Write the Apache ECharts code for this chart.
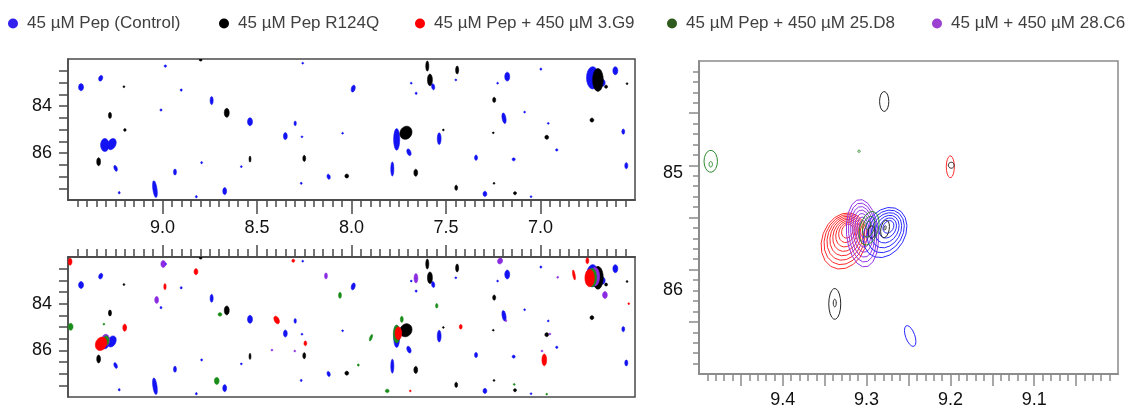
<!DOCTYPE html>
<html>
<head>
<meta charset="utf-8">
<script src="https://cdn.jsdelivr.net/npm/echarts@6/dist/echarts.min.js"></script>
<style>
  html, body { margin: 0; padding: 0; background: #fff; }
  #chart { width: 1132px; height: 406px; }
</style>
</head>
<body>
<div id="chart"></div>
<script>
// Series names (legend order)
const seriesNames = [
  '45 µM Pep (Control)',
  '45 µM Pep R124Q',
  '45 µM Pep + 450 µM 3.G9',
  '45 µM Pep + 450 µM 25.D8',
  '45 µM + 450 µM 28.C6'
];

// Full-width spectra: [1H ppm, 15N ppm, 1H linewidth ppm, 15N linewidth ppm, tilt deg]
const controlPeaks = [
  [9.431, 83.20, 0.026, 0.30], [9.327, 82.82, 0.020, 0.25, 20], [8.985, 82.30, 0.012, 0.10],
  [8.901, 83.32, 0.010, 0.10], [8.740, 83.77, 0.016, 0.34], [9.008, 84.17, 0.010, 0.10],
  [8.537, 84.67, 0.026, 0.34], [9.305, 85.66, 0.045, 0.55], [9.268, 85.62, 0.042, 0.50, 25],
  [8.298, 84.74, 0.012, 0.20], [8.350, 85.28, 0.020, 0.30], [8.262, 85.31, 0.008, 0.08],
  [8.047, 85.16, 0.006, 0.06], [9.248, 86.65, 0.016, 0.26, -20], [8.793, 86.41, 0.010, 0.09],
  [8.934, 86.81, 0.015, 0.26], [8.583, 86.58, 0.008, 0.08], [8.121, 87.01, 0.016, 0.22, -15],
  [8.266, 87.29, 0.010, 0.09], [9.040, 87.54, 0.022, 0.72, -8], [9.229, 87.69, 0.010, 0.10],
  [8.821, 87.86, 0.010, 0.10], [8.671, 87.62, 0.020, 0.30], [7.991, 83.26, 0.020, 0.30, 15],
  [8.258, 82.18, 0.008, 0.08], [7.568, 83.18, 0.016, 0.26, -10], [7.448, 82.89, 0.008, 0.08],
  [7.684, 83.03, 0.008, 0.08], [7.658, 83.46, 0.010, 0.10], [7.176, 82.75, 0.026, 0.38],
  [6.998, 82.43, 0.008, 0.10], [7.227, 83.03, 0.008, 0.08], [7.193, 84.52, 0.020, 0.46, -10],
  [7.084, 84.26, 0.008, 0.08], [6.959, 84.74, 0.006, 0.06], [7.761, 85.42, 0.032, 0.92],
  [7.536, 85.39, 0.020, 0.50], [7.696, 85.97, 0.020, 0.30, -20], [7.784, 86.68, 0.016, 0.60],
  [7.341, 86.20, 0.016, 0.22], [7.142, 86.27, 0.016, 0.13], [6.914, 85.87, 0.012, 0.10],
  [7.294, 87.74, 0.020, 0.22], [7.050, 87.86, 0.008, 0.08], [6.724, 82.80, 0.065, 0.95],
  [6.671, 83.01, 0.026, 0.30], [6.604, 82.50, 0.026, 0.34], [6.562, 85.09, 0.015, 0.22],
  [6.546, 86.54, 0.016, 0.26]
];
const r124qPeaks = [
  [8.798, 82.04, 0.015, 0.10], [9.204, 83.18, 0.010, 0.08], [9.278, 84.40, 0.016, 0.26],
  [8.660, 84.29, 0.026, 0.38], [9.199, 85.02, 0.013, 0.12], [9.338, 86.37, 0.020, 0.34],
  [8.537, 86.26, 0.010, 0.26], [8.250, 86.23, 0.015, 0.26], [8.025, 86.98, 0.020, 0.17],
  [7.599, 82.30, 0.016, 0.43], [7.585, 82.89, 0.026, 0.50], [7.441, 82.47, 0.016, 0.34],
  [7.245, 83.74, 0.016, 0.22], [6.728, 84.60, 0.020, 0.17], [6.967, 85.33, 0.020, 0.17],
  [7.250, 85.14, 0.006, 0.06], [7.514, 85.02, 0.006, 0.06], [7.712, 85.14, 0.062, 0.58, 30],
  [7.660, 86.84, 0.020, 0.30], [7.446, 87.48, 0.015, 0.22], [7.246, 87.29, 0.006, 0.06],
  [7.135, 87.71, 0.016, 0.13], [6.696, 82.89, 0.056, 0.98], [6.653, 83.18, 0.016, 0.13],
  [6.542, 83.05, 0.008, 0.08]
];
const g9Peaks = [
  [9.489, 82.20, 0.020, 0.30], [8.823, 82.63, 0.020, 0.26], [8.987, 83.27, 0.012, 0.26],
  [9.200, 85.03, 0.020, 0.30], [9.325, 85.72, 0.058, 0.60, 25], [8.308, 82.16, 0.015, 0.13],
  [8.396, 84.70, 0.025, 0.35, -25], [8.244, 85.70, 0.015, 0.20], [6.752, 82.16, 0.015, 0.26],
  [6.823, 82.77, 0.012, 0.43, -10], [6.740, 82.90, 0.050, 0.75], [6.533, 84.00, 0.006, 0.06],
  [7.422, 84.99, 0.015, 0.20], [7.752, 85.27, 0.035, 0.55], [6.980, 86.41, 0.025, 0.50],
  [7.689, 87.74, 0.006, 0.06]
];
const d8Peaks = [
  [9.486, 84.99, 0.025, 0.30], [9.310, 84.88, 0.006, 0.06], [9.298, 85.58, 0.030, 0.40],
  [8.696, 84.46, 0.020, 0.15], [8.713, 87.31, 0.025, 0.30], [8.061, 83.64, 0.015, 0.26],
  [7.964, 86.63, 0.008, 0.10], [7.734, 84.67, 0.015, 0.26], [7.761, 85.30, 0.035, 0.77],
  [7.897, 85.46, 0.012, 0.30, 20], [7.549, 84.09, 0.012, 0.20], [7.811, 87.74, 0.020, 0.15],
  [7.139, 87.46, 0.008, 0.08], [6.967, 87.88, 0.006, 0.06], [6.728, 82.88, 0.050, 0.80]
];
const c6Peaks = [
  [8.996, 82.30, 0.025, 0.30], [9.031, 83.84, 0.020, 0.30], [9.300, 85.56, 0.040, 0.50],
  [8.135, 82.81, 0.015, 0.26], [8.421, 85.99, 0.006, 0.06], [8.300, 86.03, 0.008, 0.08],
  [7.214, 82.17, 0.026, 0.26, 20], [7.659, 82.91, 0.020, 0.40], [6.909, 82.87, 0.008, 0.08],
  [6.712, 82.84, 0.050, 0.80], [6.659, 83.63, 0.025, 0.30], [7.183, 84.73, 0.006, 0.06],
  [6.950, 85.30, 0.006, 0.06], [6.992, 86.03, 0.006, 0.06], [7.761, 85.13, 0.025, 0.40]
];

// Expanded region contours:
// [outer 1H, outer 15N, outer 1H width, outer 15N width, top 1H, top 15N, levels, tilt deg]
const controlZoom = [
  [9.278, 85.644, 0.048, 0.51, 9.274, 85.59, 6, 30],
  [9.248, 86.636, 0.011, 0.21, 9.248, 86.636, 1, -20]
];
const r124qZoom = [
  [9.279, 84.388, 0.011, 0.19, 9.279, 84.388, 1, 0],
  [9.338, 86.328, 0.0143, 0.296, 9.338, 86.32, 2, 0],
  [9.199, 84.999, 0.007, 0.057, 9.199, 84.999, 1, 0],
  [9.278, 85.610, 0.010, 0.17, 9.278, 85.60, 2, 10],
  [9.294, 85.640, 0.008, 0.12, 9.294, 85.64, 1, 0]
];
const g9Zoom = [
  [9.327, 85.725, 0.0526, 0.553, 9.323, 85.63, 8, 20],
  [9.2001, 85.014, 0.0096, 0.21, 9.2001, 85.014, 1, 0]
];
const d8Zoom = [
  [9.297, 85.603, 0.022, 0.33, 9.298, 85.575, 3, 15],
  [9.486, 84.961, 0.016, 0.21, 9.486, 84.99, 2, 0],
  [9.309, 84.865, 0.003, 0.02, 9.309, 84.865, 1, 0]
];
const c6Zoom = [
  [9.305, 85.651, 0.038, 0.65, 9.304, 85.61, 7, -5]
];

// Axis tick values
const wideLabelTicks = [9.0, 8.5, 8.0, 7.5, 7.0];
const wideNLabels = [84, 86];
const zoomHLabels = [9.4, 9.3, 9.2, 9.1];
const zoomNLabels = [85, 86];

function steps(from, to, step, dp) {
  const out = [];
  const n = Math.round((to - from) / step);
  for (let i = 0; i <= n; i++) out.push(+(from + i * step).toFixed(dp));
  return out;
}
const wideHMinor = steps(6.55, 9.45, 0.05, 2);
const wideHMajor = wideLabelTicks.slice();
const wideNTicks = steps(82.5, 87.5, 0.5, 1);
const zoomHMinor = steps(9.01, 9.49, 0.01, 2);
const zoomHMajor = steps(9.05, 9.45, 0.05, 2);
const zoomNMinor = steps(84.1, 86.9, 0.1, 1);
const zoomNMajor = steps(84.5, 86.5, 0.5, 1);

const legendColors = ['#3322ee', '#000000', '#ff0000', '#2f5c1e', '#9b40d0'];
const blobColors = ['#1212f2', '#000000', '#ff0000', '#1a8c1a', '#8a2be2'];
const lineColors = ['#2a2aff', '#262626', '#ff2a2a', '#2e8b2e', '#9433e6'];

function ellipsePoints(cx, cy, rx, ry, tiltDeg, n) {
  const a = tiltDeg * Math.PI / 180, ca = Math.cos(a), sa = Math.sin(a);
  const pts = [];
  for (let i = 0; i < n; i++) {
    const t = i / n * Math.PI * 2;
    const ex = rx * Math.cos(t), ey = ry * Math.sin(t);
    pts.push([cx + ex * ca - ey * sa, cy + ex * sa + ey * ca]);
  }
  return pts;
}

function blobRenderer(color) {
  return function (params, api) {
    const c = api.coord([api.value(0), api.value(1)]);
    const s = api.size([api.value(2), api.value(3)]);
    const rx = Math.max(Math.abs(s[0]) / 2, 0.9);
    const ry = Math.max(Math.abs(s[1]) / 2, 0.9);
    return {
      type: 'polygon',
      shape: { points: ellipsePoints(c[0], c[1], rx, ry, api.value(4) || 0, 20) },
      style: { fill: color, stroke: color, lineWidth: 0.6 }
    };
  };
}

function contourRenderer(color) {
  return function (params, api) {
    const L = api.value(6);
    const children = [];
    for (let i = 0; i < L; i++) {
      const f = L > 1 ? i / (L - 1) : 0;
      const k = 1 - 0.75 * f;
      const h = api.value(0) + (api.value(4) - api.value(0)) * f;
      const n = api.value(1) + (api.value(5) - api.value(1)) * f;
      const c = api.coord([h, n]);
      const s = api.size([api.value(2) * k, api.value(3) * k]);
      children.push({
        type: 'polygon',
        shape: { points: ellipsePoints(c[0], c[1], Math.abs(s[0]) / 2, Math.abs(s[1]) / 2, api.value(7), 18) },
        style: { fill: 'none', stroke: color, lineWidth: 1 }
      });
    }
    return { type: 'group', children: children };
  };
}

const pad5 = arr => arr.map(p => [p[0], p[1], p[2], p[3], p[4] || 0]);

function blobSeries(idx, peaks, xi, yi) {
  return {
    type: 'custom', name: seriesNames[idx], xAxisIndex: xi, yAxisIndex: yi,
    clip: true, silent: true, itemStyle: { color: legendColors[idx] },
    encode: { x: 0, y: 1 },
    renderItem: blobRenderer(blobColors[idx]),
    data: pad5(peaks)
  };
}
function contourSeries(idx, peaks) {
  return {
    type: 'custom', name: seriesNames[idx], xAxisIndex: 4, yAxisIndex: 2,
    clip: true, silent: true, itemStyle: { color: legendColors[idx] },
    encode: { x: 0, y: 1 },
    renderItem: contourRenderer(lineColors[idx]),
    data: peaks
  };
}

const labelFont = { fontFamily: 'Liberation Sans, Arial, sans-serif', fontSize: 18, color: '#111' };
const darkAxis = '#4a4a4a';
const lightAxis = '#8a8a8a';

function hAxis(grid, pos, min, max, ticks, len, color, labels, margin) {
  return {
    type: 'value', gridIndex: grid, position: pos, min: min, max: max, inverse: true,
    splitLine: { show: false },
    axisLine: { show: true, lineStyle: { color: color, width: 1.5 } },
    axisTick: { show: true, inside: false, length: len, customValues: ticks,
                lineStyle: { color: color, width: 1.5 } },
    axisLabel: labels ? Object.assign({ show: true, customValues: labels, margin: margin,
                formatter: v => v.toFixed(1) }, labelFont) : { show: false }
  };
}
function vAxis(grid, min, max, ticks, len, color, labels, margin, formatter, rich) {
  return {
    type: 'value', gridIndex: grid, position: 'left', min: min, max: max, inverse: true,
    splitLine: { show: false },
    axisLine: { show: true, lineStyle: { color: color, width: 1.5 } },
    axisTick: { show: true, inside: false, length: len, customValues: ticks,
                lineStyle: { color: color, width: 1.5 } },
    axisLabel: labels ? Object.assign({ show: true, customValues: labels, margin: margin,
                formatter: formatter || (v => String(v)), rich: rich }, labelFont) : { show: false }
  };
}

const legends = [8, 219, 415, 667, 932].map((left, i) => ({
  left: left, top: 15, padding: 0, orient: 'horizontal',
  data: [seriesNames[i]], icon: 'circle', itemWidth: 10, itemHeight: 14,
  symbolKeepAspect: false,
  textStyle: { fontFamily: 'Liberation Sans, Arial, sans-serif', fontSize: 17, color: '#404040',
               padding: [0, 0, 0, 4] }
}));

const gridBase = { show: true, borderWidth: 1.5, backgroundColor: 'transparent',
                   containLabel: false, outerBoundsMode: 'none' };

const option = {
  animation: false,
  backgroundColor: '#ffffff',
  legend: legends,
  grid: [
    Object.assign({ left: 68, top: 59, width: 567, height: 141, borderColor: darkAxis }, gridBase),
    Object.assign({ left: 68, top: 257, width: 567, height: 140, borderColor: darkAxis }, gridBase),
    Object.assign({ left: 699, top: 61, width: 419, height: 313, borderColor: lightAxis }, gridBase)
  ],
  xAxis: [
    hAxis(0, 'bottom', 6.5, 9.5, wideHMinor, 7, darkAxis, null),
    hAxis(0, 'bottom', 6.5, 9.5, wideHMajor, 14, darkAxis, wideLabelTicks, 19),
    hAxis(1, 'top', 6.5, 9.5, wideHMinor, 8, darkAxis, null),
    hAxis(1, 'top', 6.5, 9.5, wideHMajor, 12, darkAxis, null),
    hAxis(2, 'bottom', 9.0, 9.5, zoomHMinor, 7, lightAxis, null),
    hAxis(2, 'bottom', 9.0, 9.5, zoomHMajor, 12, lightAxis, zoomHLabels, 17)
  ],
  yAxis: [
    vAxis(0, 82, 88, wideNTicks, 9, darkAxis, wideNLabels, 16),
    vAxis(1, 82, 88, wideNTicks, 9, darkAxis, wideNLabels, 16),
    vAxis(2, 84, 87, zoomNMinor, 6, lightAxis, null),
    vAxis(2, 84, 87, zoomNMajor, 10, lightAxis, zoomNLabels, 16,
      v => (v === 85 ? '{a|85}' : '{b|86}'),
      { a: { padding: [16, 0, 0, 0], fontFamily: 'Liberation Sans, Arial, sans-serif', fontSize: 18, color: '#111' },
        b: { padding: [40, 0, 0, 0], fontFamily: 'Liberation Sans, Arial, sans-serif', fontSize: 18, color: '#111' } })
  ],
  series: [
    // upper spectrum: control and R124Q
    blobSeries(0, controlPeaks, 0, 0),
    blobSeries(1, r124qPeaks, 0, 0),
    // lower spectrum: all five samples
    blobSeries(0, controlPeaks, 2, 1),
    blobSeries(1, r124qPeaks, 2, 1),
    blobSeries(4, c6Peaks, 2, 1),
    blobSeries(3, d8Peaks, 2, 1),
    blobSeries(2, g9Peaks, 2, 1),
    // expanded region
    contourSeries(2, g9Zoom),
    contourSeries(4, c6Zoom),
    contourSeries(0, controlZoom),
    contourSeries(3, d8Zoom),
    contourSeries(1, r124qZoom)
  ]
};

const chart = echarts.init(document.getElementById('chart'), null, { renderer: 'canvas' });
chart.setOption(option);
</script>
</body>
</html>
